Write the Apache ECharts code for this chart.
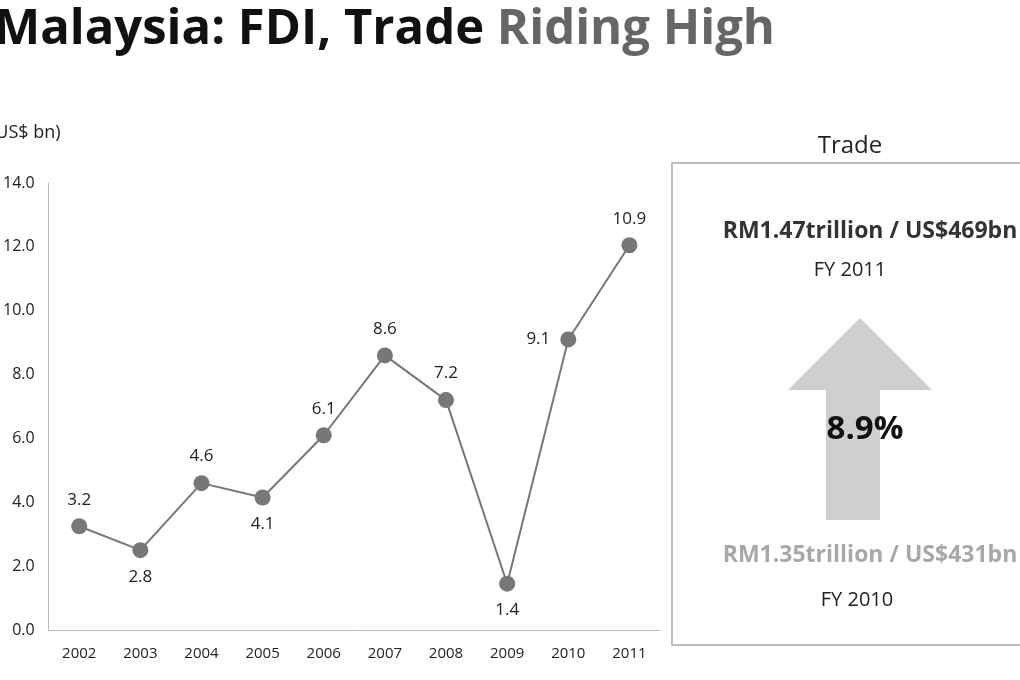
<!DOCTYPE html>
<html lang="en">
<head>
    <meta charset="UTF-8">
    <script src="https://cdn.jsdelivr.net/npm/echarts@6/dist/echarts.min.js"></script>
</head>
<body style="margin:0">
    <div id="main" style="height: 680px;width: 1020px;"></div>
    <script>
        var years = ['2002','2003','2004','2005','2006','2007','2008','2009','2010','2011']
        // plotted positions
        var fdi = [3.25, 2.5, 4.6, 4.15, 6.1, 8.6, 7.2, 1.45, 9.1, 12.05]
        // printed labels
        var fdiLabels = ['3.2','2.8','4.6','4.1','6.1','8.6','7.2','1.4','9.1','10.9']
        var labelPos = ['top','bottom','top','bottom','top','top','top','bottom','left','top']

        var font = '"Open Sans", "DejaVu Sans", sans-serif'
        var myCharts = echarts.init(document.getElementById('main'))
        var option = {
            backgroundColor: '#fff',
            textStyle: { fontFamily: font },
            graphic: [
                { type: 'text', left: -6, top: 6, style: { text: '{a|Malaysia: FDI, Trade }{b|Riding High}', rich: {
                    a: { fontSize: 49, fontWeight: 'bold', fill: '#111', fontFamily: font },
                    b: { fontSize: 49, fontWeight: 'bold', fill: '#666', fontFamily: font } } } },
                { type: 'text', left: -10, top: 124, style: { text: '(US$ bn)', fontSize: 18, fill: '#222', fontFamily: font } },
                { type: 'rect', shape: { x: 672, y: 163, width: 360, height: 482 }, style: { fill: 'none', stroke: '#aaa', lineWidth: 1.5 } },
                { type: 'text', x: 850, y: 146, style: { text: 'Trade', fontSize: 24, fill: '#222', align: 'center', verticalAlign: 'middle', fontFamily: font } },
                { type: 'text', x: 870, y: 231, style: { text: 'RM1.47trillion / US$469bn', fontSize: 23, fontWeight: 'bold', fill: '#333', align: 'center', verticalAlign: 'middle', fontFamily: font } },
                { type: 'text', x: 850, y: 270, style: { text: 'FY 2011', fontSize: 20, fill: '#222', align: 'center', verticalAlign: 'middle', fontFamily: font } },
                { type: 'polygon', shape: { points: [[860,318],[932,390],[880,390],[880,520],[826,520],[826,390],[788,390]] }, style: { fill: '#cfcfcf' } },
                { type: 'text', x: 865, y: 430, style: { text: '8.9%', fontSize: 33, fontWeight: 'bold', fill: '#111', align: 'center', verticalAlign: 'middle', fontFamily: font } },
                { type: 'text', x: 870, y: 555, style: { text: 'RM1.35trillion / US$431bn', fontSize: 23, fontWeight: 'bold', fill: '#a8a8a8', align: 'center', verticalAlign: 'middle', fontFamily: font } },
                { type: 'text', x: 857, y: 600, style: { text: 'FY 2010', fontSize: 20, fill: '#222', align: 'center', verticalAlign: 'middle', fontFamily: font } }
            ],
            grid: { left: 46, right: 360, top: 183, bottom: 50 },
            xAxis: {
                type: 'category', data: years,
                axisLine: { lineStyle: { color: '#bbb' } },
                axisTick: { show: false },
                axisLabel: { color: '#222', fontSize: 15, margin: 16 }
            },
            yAxis: {
                type: 'value', min: 0, max: 14, interval: 2,
                axisLine: { show: true, lineStyle: { color: '#bbb' } },
                splitLine: { show: false },
                axisLabel: { color: '#222', fontSize: 16, margin: 14, formatter: function (v) { return v.toFixed(1) } }
            },
            series: [{
                type: 'line',
                data: fdi.map(function (v, i) {
                    return { value: v, label: { position: labelPos[i], formatter: fdiLabels[i] } }
                }),
                symbol: 'circle', symbolSize: 16,
                lineStyle: { color: '#777', width: 2 },
                itemStyle: { color: '#777' },
                label: { show: true, fontSize: 17, color: '#222', distance: 10 }
            }]
        }
        myCharts.setOption(option)
    </script>
</body>
</html>
